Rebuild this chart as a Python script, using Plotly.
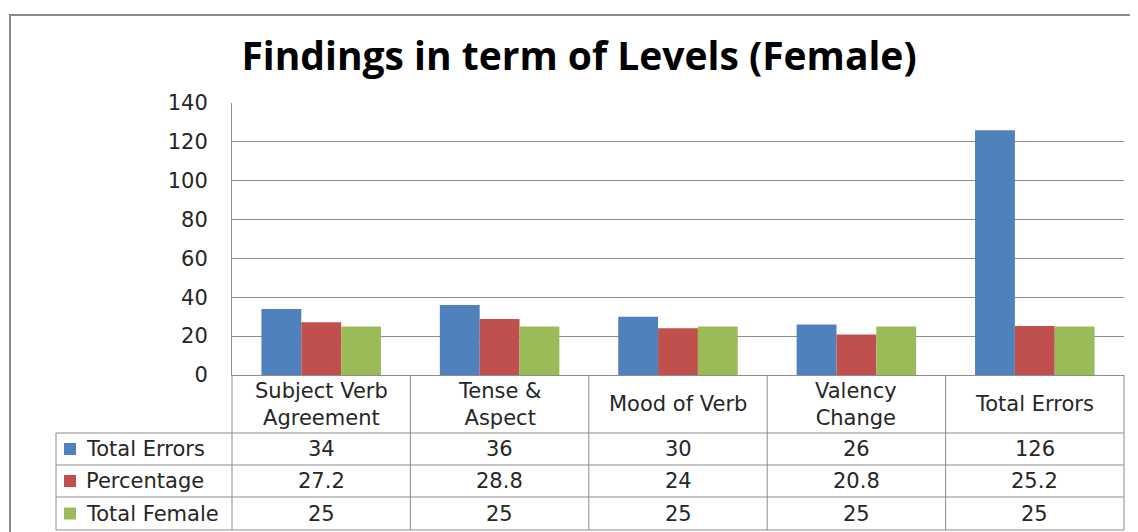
import plotly.graph_objects as go

categories = ["Subject Verb<br>Agreement", "Tense &<br>Aspect", "Mood of Verb", "Valency<br>Change", "Total Errors"]
series_names = ["Total Errors", "Percentage", "Total Female"]
total_errors = [34, 36, 30, 26, 126]
percentage = [27.2, 28.8, 24, 20.8, 25.2]
total_female = [25, 25, 25, 25, 25]
y_ticks = [0, 20, 40, 60, 80, 100, 120, 140]

colors = ["#4F81BD", "#C0504D", "#9BBB59"]
series_vals = [total_errors, percentage, total_female]

OFF = 8  # default page body margin
W, H = 1138 - OFF, 532 - OFF
# plot area in screen pixels
L, R, T, B = 232, 1124, 103, 375
FONT = "DejaVu Sans"
TFONT = "Open Sans"
TXT = "#262626"
GRID = "#8c8c8c"
FS = 21

def px(x):
    return (x - L) / (R - L)

def py(y):
    return (B - y) / (B - T)

fig = go.Figure()
for name, vals, c in zip(series_names, series_vals, colors):
    fig.add_trace(go.Bar(x=categories, y=vals, name=name, marker=dict(color=c, line=dict(width=0))))

shapes = []
shapes.append(dict(type="rect", xref="paper", yref="paper", x0=px(10), x1=px(1160), y0=py(560), y1=py(15),
                   line=dict(color="#8a8a8a", width=2), layer="below"))
row_y = [433, 465, 497, 530]
for yy in row_y:
    shapes.append(dict(type="line", xref="paper", yref="paper", x0=px(56), x1=1, y0=py(yy), y1=py(yy),
                       line=dict(color=GRID, width=1)))
n = len(categories)
for i in range(n + 1):
    shapes.append(dict(type="line", xref="paper", yref="paper", x0=i / n, x1=i / n, y0=0, y1=py(530),
                       line=dict(color=GRID, width=1)))
shapes.append(dict(type="line", xref="paper", yref="paper", x0=px(56), x1=px(56), y0=py(433), y1=py(530),
                   line=dict(color=GRID, width=1)))

annotations = []
for i, cat in enumerate(categories):
    annotations.append(dict(x=(i + 0.5) / n, y=py(404), xref="paper", yref="paper", text=cat, showarrow=False,
                            font=dict(family=FONT, size=FS, color=TXT), xanchor="center", yanchor="middle"))
for r, (name, vals, c) in enumerate(zip(series_names, series_vals, colors)):
    yc = (row_y[r] + row_y[r + 1]) / 2
    shapes.append(dict(type="rect", xref="paper", yref="paper", x0=px(64), x1=px(76), y0=py(yc + 6), y1=py(yc - 6),
                       fillcolor=c, line=dict(width=0)))
    annotations.append(dict(x=px(84), y=py(yc), xref="paper", yref="paper", text=name, showarrow=False,
                            font=dict(family=FONT, size=FS, color=TXT), xanchor="left", yanchor="middle"))
    for i, v in enumerate(vals):
        annotations.append(dict(x=(i + 0.5) / n, y=py(yc), xref="paper", yref="paper", text=f"{v:g}",
                                showarrow=False, font=dict(family=FONT, size=FS, color=TXT),
                                xanchor="center", yanchor="middle"))

fig.update_layout(
    width=W, height=H, autosize=False,
    margin=dict(l=L - OFF, r=W - (R - OFF), t=T - OFF, b=H - (B - OFF), pad=0),
    paper_bgcolor="white", plot_bgcolor="white",
    showlegend=False,
    barmode="group", bargap=0.33, bargroupgap=0,
    title=dict(text="<b>Findings in term of Levels (Female)</b>", x=px(579), xref="paper", xanchor="center",
               y=1 - (56 - OFF) / H, yanchor="middle",
               font=dict(family=TFONT, size=39, color="black")),
    xaxis=dict(showticklabels=False, showgrid=False, showline=True, linecolor=GRID, linewidth=1, ticks="",
               zeroline=False),
    yaxis=dict(range=[0, 140], tickvals=y_ticks, showgrid=True, gridcolor=GRID, gridwidth=1, showline=True,
               linecolor=GRID, linewidth=1, zeroline=False, ticks="", ticklabelstandoff=19,
               tickfont=dict(family=FONT, size=FS, color=TXT)),
    shapes=shapes, annotations=annotations,
    font=dict(family=FONT),
)

fig.write_html("out.html")
